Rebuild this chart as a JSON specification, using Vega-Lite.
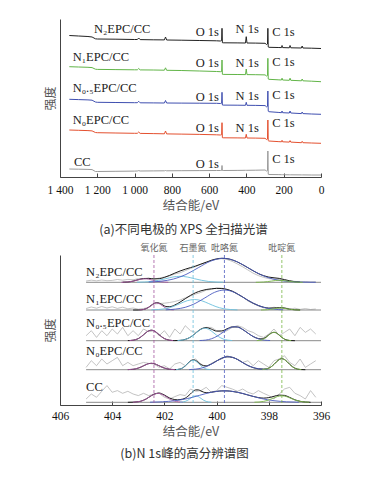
{
"$schema":"https://vega.github.io/schema/vega-lite/v6.json",
"background":"white",
"padding":{"left":44,"top":19,"right":5,"bottom":5},
"spacing":78,
"bounds":"flush",
"resolve":{"scale":{"color":"independent"}},
"config":{"view":{"stroke":null},"font":"Liberation Serif","axis":{"labelOverlap":false}},
"datasets":{
"survey":[
{"s":"N2","e":1350,"v":141.5},{"s":"N2","e":1300,"v":141.0},{"s":"N2","e":1250,"v":140.5},{"s":"N2","e":1228,"v":140.0},{"s":"N2","e":1210,"v":138.2},{"s":"N2","e":1200,"v":138.0},{"s":"N2","e":1100,"v":137.8},{"s":"N2","e":1000,"v":137.5},{"s":"N2","e":985,"v":137.5},{"s":"N2","e":978,"v":139.0},{"s":"N2","e":970,"v":137.4},{"s":"N2","e":900,"v":137.2},{"s":"N2","e":840,"v":137.1},{"s":"N2","e":834,"v":140.0},{"s":"N2","e":828,"v":137.0},{"s":"N2","e":750,"v":136.8},{"s":"N2","e":650,"v":136.5},{"s":"N2","e":560,"v":136.2},{"s":"N2","e":540,"v":136.0},{"s":"N2","e":533,"v":136.5},{"s":"N2","e":531,"v":148.7},{"s":"N2","e":529,"v":134.3},{"s":"N2","e":525,"v":134.2},{"s":"N2","e":450,"v":134.1},{"s":"N2","e":405,"v":134.0},{"s":"N2","e":401,"v":140.3},{"s":"N2","e":397,"v":134.0},{"s":"N2","e":350,"v":133.9},{"s":"N2","e":300,"v":133.7},{"s":"N2","e":292,"v":132.5},{"s":"N2","e":287,"v":133.0},{"s":"N2","e":285,"v":148.7},{"s":"N2","e":283,"v":130.0},{"s":"N2","e":280,"v":129.7},{"s":"N2","e":230,"v":129.5},{"s":"N2","e":212,"v":129.4},{"s":"N2","e":209,"v":131.5},{"s":"N2","e":206,"v":129.4},{"s":"N2","e":170,"v":129.2},{"s":"N2","e":166,"v":131.5},{"s":"N2","e":162,"v":129.2},{"s":"N2","e":105,"v":129.0},{"s":"N2","e":101,"v":131.0},{"s":"N2","e":97,"v":129.0},{"s":"N2","e":50,"v":128.8},{"s":"N2","e":0,"v":128.5},
{"s":"N1","e":1350,"v":110.3},{"s":"N1","e":1300,"v":110.0},{"s":"N1","e":1250,"v":109.7},{"s":"N1","e":1228,"v":109.4},{"s":"N1","e":1210,"v":107.8},{"s":"N1","e":1200,"v":107.6},{"s":"N1","e":1100,"v":107.4},{"s":"N1","e":1000,"v":107.2},{"s":"N1","e":985,"v":107.2},{"s":"N1","e":978,"v":108.5},{"s":"N1","e":970,"v":107.1},{"s":"N1","e":900,"v":107.0},{"s":"N1","e":840,"v":106.8},{"s":"N1","e":834,"v":109.2},{"s":"N1","e":828,"v":106.7},{"s":"N1","e":750,"v":106.5},{"s":"N1","e":650,"v":106.0},{"s":"N1","e":560,"v":105.5},{"s":"N1","e":540,"v":105.3},{"s":"N1","e":533,"v":105.5},{"s":"N1","e":531,"v":117.0},{"s":"N1","e":529,"v":102.7},{"s":"N1","e":525,"v":102.6},{"s":"N1","e":450,"v":102.5},{"s":"N1","e":405,"v":102.4},{"s":"N1","e":401,"v":108.0},{"s":"N1","e":397,"v":102.4},{"s":"N1","e":350,"v":102.3},{"s":"N1","e":300,"v":102.1},{"s":"N1","e":292,"v":101.0},{"s":"N1","e":287,"v":101.5},{"s":"N1","e":285,"v":118.7},{"s":"N1","e":283,"v":98.0},{"s":"N1","e":280,"v":97.7},{"s":"N1","e":230,"v":97.2},{"s":"N1","e":212,"v":97.0},{"s":"N1","e":209,"v":98.8},{"s":"N1","e":206,"v":97.0},{"s":"N1","e":170,"v":96.7},{"s":"N1","e":166,"v":98.8},{"s":"N1","e":162,"v":96.7},{"s":"N1","e":105,"v":96.2},{"s":"N1","e":101,"v":98.0},{"s":"N1","e":97,"v":96.2},{"s":"N1","e":50,"v":95.8},{"s":"N1","e":0,"v":95.3},
{"s":"N05","e":1350,"v":77.7},{"s":"N05","e":1300,"v":77.4},{"s":"N05","e":1250,"v":77.1},{"s":"N05","e":1228,"v":76.8},{"s":"N05","e":1210,"v":75.0},{"s":"N05","e":1200,"v":74.7},{"s":"N05","e":1100,"v":74.5},{"s":"N05","e":1000,"v":74.3},{"s":"N05","e":985,"v":74.3},{"s":"N05","e":978,"v":75.7},{"s":"N05","e":970,"v":74.2},{"s":"N05","e":900,"v":74.1},{"s":"N05","e":840,"v":74.0},{"s":"N05","e":834,"v":76.5},{"s":"N05","e":828,"v":74.0},{"s":"N05","e":750,"v":73.9},{"s":"N05","e":650,"v":73.8},{"s":"N05","e":560,"v":73.7},{"s":"N05","e":540,"v":73.5},{"s":"N05","e":533,"v":73.8},{"s":"N05","e":531,"v":84.7},{"s":"N05","e":529,"v":72.0},{"s":"N05","e":525,"v":71.9},{"s":"N05","e":450,"v":71.8},{"s":"N05","e":405,"v":71.7},{"s":"N05","e":401,"v":74.7},{"s":"N05","e":397,"v":71.7},{"s":"N05","e":350,"v":71.6},{"s":"N05","e":300,"v":71.4},{"s":"N05","e":292,"v":70.2},{"s":"N05","e":287,"v":70.7},{"s":"N05","e":285,"v":86.0},{"s":"N05","e":283,"v":65.8},{"s":"N05","e":280,"v":65.3},{"s":"N05","e":230,"v":64.6},{"s":"N05","e":212,"v":64.3},{"s":"N05","e":209,"v":66.0},{"s":"N05","e":206,"v":64.3},{"s":"N05","e":170,"v":64.0},{"s":"N05","e":166,"v":66.0},{"s":"N05","e":162,"v":64.0},{"s":"N05","e":105,"v":63.4},{"s":"N05","e":101,"v":65.0},{"s":"N05","e":97,"v":63.4},{"s":"N05","e":50,"v":63.0},{"s":"N05","e":0,"v":62.7},
{"s":"N0","e":1350,"v":47.0},{"s":"N0","e":1300,"v":46.7},{"s":"N0","e":1250,"v":46.4},{"s":"N0","e":1228,"v":46.1},{"s":"N0","e":1210,"v":44.5},{"s":"N0","e":1200,"v":44.3},{"s":"N0","e":1100,"v":44.0},{"s":"N0","e":1000,"v":43.7},{"s":"N0","e":985,"v":43.7},{"s":"N0","e":978,"v":45.0},{"s":"N0","e":970,"v":43.6},{"s":"N0","e":900,"v":43.4},{"s":"N0","e":840,"v":43.2},{"s":"N0","e":834,"v":46.0},{"s":"N0","e":828,"v":43.1},{"s":"N0","e":750,"v":42.9},{"s":"N0","e":650,"v":42.6},{"s":"N0","e":560,"v":42.2},{"s":"N0","e":540,"v":42.0},{"s":"N0","e":533,"v":42.3},{"s":"N0","e":531,"v":54.3},{"s":"N0","e":529,"v":39.3},{"s":"N0","e":525,"v":39.2},{"s":"N0","e":450,"v":39.1},{"s":"N0","e":405,"v":39.0},{"s":"N0","e":401,"v":42.7},{"s":"N0","e":397,"v":39.0},{"s":"N0","e":350,"v":38.9},{"s":"N0","e":300,"v":38.7},{"s":"N0","e":292,"v":37.5},{"s":"N0","e":287,"v":38.0},{"s":"N0","e":285,"v":57.0},{"s":"N0","e":283,"v":36.4},{"s":"N0","e":280,"v":36.0},{"s":"N0","e":230,"v":35.4},{"s":"N0","e":212,"v":35.2},{"s":"N0","e":209,"v":36.7},{"s":"N0","e":206,"v":35.2},{"s":"N0","e":170,"v":34.9},{"s":"N0","e":166,"v":36.4},{"s":"N0","e":162,"v":34.9},{"s":"N0","e":105,"v":34.3},{"s":"N0","e":101,"v":35.7},{"s":"N0","e":97,"v":34.3},{"s":"N0","e":50,"v":34.0},{"s":"N0","e":0,"v":33.7},
{"s":"CC","e":1350,"v":8.0},{"s":"CC","e":1300,"v":7.8},{"s":"CC","e":1250,"v":7.6},{"s":"CC","e":1228,"v":7.4},{"s":"CC","e":1210,"v":5.5},{"s":"CC","e":1200,"v":5.5},{"s":"CC","e":1100,"v":5.7},{"s":"CC","e":1000,"v":5.9},{"s":"CC","e":985,"v":6.0},{"s":"CC","e":978,"v":6.4},{"s":"CC","e":970,"v":6.0},{"s":"CC","e":900,"v":6.1},{"s":"CC","e":840,"v":6.2},{"s":"CC","e":834,"v":6.5},{"s":"CC","e":828,"v":6.2},{"s":"CC","e":750,"v":6.3},{"s":"CC","e":650,"v":6.4},{"s":"CC","e":560,"v":6.5},{"s":"CC","e":540,"v":6.5},{"s":"CC","e":533,"v":6.6},{"s":"CC","e":531,"v":11.5},{"s":"CC","e":529,"v":6.5},{"s":"CC","e":525,"v":6.5},{"s":"CC","e":450,"v":6.6},{"s":"CC","e":405,"v":6.7},{"s":"CC","e":401,"v":6.7},{"s":"CC","e":397,"v":6.7},{"s":"CC","e":350,"v":6.8},{"s":"CC","e":300,"v":7.0},{"s":"CC","e":292,"v":6.0},{"s":"CC","e":287,"v":6.4},{"s":"CC","e":285,"v":26.0},{"s":"CC","e":283,"v":2.7},{"s":"CC","e":280,"v":2.5},{"s":"CC","e":230,"v":2.4},{"s":"CC","e":212,"v":2.3},{"s":"CC","e":209,"v":2.3},{"s":"CC","e":206,"v":2.3},{"s":"CC","e":170,"v":2.2},{"s":"CC","e":166,"v":2.2},{"s":"CC","e":162,"v":2.2},{"s":"CC","e":105,"v":2.1},{"s":"CC","e":101,"v":2.1},{"s":"CC","e":97,"v":2.1},{"s":"CC","e":50,"v":2.0},{"s":"CC","e":0,"v":2.0}
],
"tlab":[
{"e":1218,"v":148,"t":"N₂EPC/CC"},{"e":1332,"v":119.7,"t":"N₁EPC/CC"},{"e":1332,"v":88.7,"t":"N₀.₅EPC/CC"},{"e":1332,"v":57,"t":"N₀EPC/CC"},{"e":1325,"v":15.3,"t":"CC"},
{"e":672,"v":144.7,"t":"O 1s"},{"e":458,"v":147.7,"t":"N 1s"},{"e":262,"v":145.3,"t":"C 1s"},
{"e":672,"v":113.7,"t":"O 1s"},{"e":458,"v":113.7,"t":"N 1s"},{"e":262,"v":114.7,"t":"C 1s"},
{"e":672,"v":80.3,"t":"O 1s"},{"e":458,"v":81.3,"t":"N 1s"},{"e":262,"v":82,"t":"C 1s"},
{"e":672,"v":48.7,"t":"O 1s"},{"e":458,"v":49.3,"t":"N 1s"},{"e":262,"v":53.7,"t":"C 1s"},
{"e":672,"v":13,"t":"O 1s"},{"e":262,"v":17.7,"t":"C 1s"}
],
"raw":[
{"s":"N2","e":405.0,"v":124.0},{"s":"N2","e":404.8,"v":124.8},{"s":"N2","e":404.6,"v":124.2},{"s":"N2","e":404.4,"v":125.0},{"s":"N2","e":404.2,"v":124.3},{"s":"N2","e":404.0,"v":124.6},{"s":"N2","e":403.8,"v":125.5},{"s":"N2","e":403.6,"v":124.8},{"s":"N2","e":403.4,"v":125.6},{"s":"N2","e":403.2,"v":125.2},{"s":"N2","e":403.0,"v":126.3},{"s":"N2","e":402.8,"v":126.0},{"s":"N2","e":402.6,"v":126.8},{"s":"N2","e":402.4,"v":125.9},{"s":"N2","e":402.2,"v":126.9},{"s":"N2","e":402.0,"v":128.0},{"s":"N2","e":401.8,"v":129.1},{"s":"N2","e":401.6,"v":131.0},{"s":"N2","e":401.4,"v":132.2},{"s":"N2","e":401.2,"v":134.4},{"s":"N2","e":401.0,"v":136.5},{"s":"N2","e":400.8,"v":138.4},{"s":"N2","e":400.6,"v":140.8},{"s":"N2","e":400.4,"v":142.5},{"s":"N2","e":400.2,"v":144.6},{"s":"N2","e":400.0,"v":145.8},{"s":"N2","e":399.8,"v":146.3},{"s":"N2","e":399.6,"v":145.5},{"s":"N2","e":399.4,"v":143.6},{"s":"N2","e":399.2,"v":141.0},{"s":"N2","e":399.0,"v":138.2},{"s":"N2","e":398.8,"v":135.0},{"s":"N2","e":398.6,"v":131.8},{"s":"N2","e":398.4,"v":129.4},{"s":"N2","e":398.2,"v":127.6},{"s":"N2","e":398.0,"v":126.4},{"s":"N2","e":397.8,"v":126.0},{"s":"N2","e":397.6,"v":125.6},{"s":"N2","e":397.4,"v":124.9},{"s":"N2","e":397.2,"v":124.0},{"s":"N2","e":397.0,"v":123.6},{"s":"N2","e":396.8,"v":123.2},{"s":"N2","e":396.6,"v":123.4},{"s":"N2","e":396.4,"v":123.0},{"s":"N2","e":396.2,"v":123.2},
{"s":"N1","e":405.0,"v":96.5},{"s":"N1","e":404.8,"v":98.0},{"s":"N1","e":404.6,"v":96.8},{"s":"N1","e":404.4,"v":98.5},{"s":"N1","e":404.2,"v":97.0},{"s":"N1","e":404.0,"v":98.2},{"s":"N1","e":403.8,"v":96.6},{"s":"N1","e":403.6,"v":97.8},{"s":"N1","e":403.4,"v":96.2},{"s":"N1","e":403.2,"v":97.0},{"s":"N1","e":403.0,"v":95.8},{"s":"N1","e":402.8,"v":96.5},{"s":"N1","e":402.6,"v":97.5},{"s":"N1","e":402.4,"v":101.0},{"s":"N1","e":402.2,"v":101.5},{"s":"N1","e":402.0,"v":101.8},{"s":"N1","e":401.8,"v":102.5},{"s":"N1","e":401.6,"v":103.5},{"s":"N1","e":401.4,"v":105.0},{"s":"N1","e":401.2,"v":107.2},{"s":"N1","e":401.0,"v":109.0},{"s":"N1","e":400.8,"v":111.0},{"s":"N1","e":400.6,"v":112.6},{"s":"N1","e":400.4,"v":114.8},{"s":"N1","e":400.2,"v":115.6},{"s":"N1","e":400.0,"v":117.0},{"s":"N1","e":399.8,"v":116.8},{"s":"N1","e":399.6,"v":115.2},{"s":"N1","e":399.4,"v":114.0},{"s":"N1","e":399.2,"v":110.5},{"s":"N1","e":399.0,"v":108.2},{"s":"N1","e":398.8,"v":104.0},{"s":"N1","e":398.6,"v":101.5},{"s":"N1","e":398.4,"v":99.0},{"s":"N1","e":398.2,"v":97.2},{"s":"N1","e":398.0,"v":96.5},{"s":"N1","e":397.8,"v":97.8},{"s":"N1","e":397.6,"v":96.6},{"s":"N1","e":397.4,"v":97.5},{"s":"N1","e":397.2,"v":96.0},{"s":"N1","e":397.0,"v":96.8},{"s":"N1","e":396.8,"v":95.6},{"s":"N1","e":396.6,"v":96.4},{"s":"N1","e":396.4,"v":95.5},{"s":"N1","e":396.2,"v":96.0},
{"s":"N05","e":405.0,"v":69.3},{"s":"N05","e":404.8,"v":74.3},{"s":"N05","e":404.6,"v":67.6},{"s":"N05","e":404.4,"v":74.3},{"s":"N05","e":404.2,"v":69.3},{"s":"N05","e":404.0,"v":76.0},{"s":"N05","e":403.8,"v":71.0},{"s":"N05","e":403.6,"v":77.6},{"s":"N05","e":403.4,"v":69.3},{"s":"N05","e":403.2,"v":74.3},{"s":"N05","e":403.0,"v":69.3},{"s":"N05","e":402.8,"v":76.0},{"s":"N05","e":402.6,"v":73.3},{"s":"N05","e":402.4,"v":74.3},{"s":"N05","e":402.2,"v":69.3},{"s":"N05","e":402.0,"v":74.3},{"s":"N05","e":401.8,"v":67.6},{"s":"N05","e":401.6,"v":76.0},{"s":"N05","e":401.4,"v":71.0},{"s":"N05","e":401.2,"v":79.3},{"s":"N05","e":401.0,"v":74.3},{"s":"N05","e":400.8,"v":72.6},{"s":"N05","e":400.6,"v":76.0},{"s":"N05","e":400.4,"v":77.6},{"s":"N05","e":400.2,"v":77.6},{"s":"N05","e":400.0,"v":74.3},{"s":"N05","e":399.8,"v":72.6},{"s":"N05","e":399.6,"v":74.3},{"s":"N05","e":399.4,"v":77.6},{"s":"N05","e":399.2,"v":79.3},{"s":"N05","e":399.0,"v":77.6},{"s":"N05","e":398.8,"v":74.3},{"s":"N05","e":398.6,"v":72.6},{"s":"N05","e":398.4,"v":69.3},{"s":"N05","e":398.2,"v":67.6},{"s":"N05","e":398.0,"v":71.0},{"s":"N05","e":397.8,"v":76.0},{"s":"N05","e":397.6,"v":69.3},{"s":"N05","e":397.4,"v":72.6},{"s":"N05","e":397.2,"v":76.0},{"s":"N05","e":397.0,"v":69.3},{"s":"N05","e":396.8,"v":77.6},{"s":"N05","e":396.6,"v":72.6},{"s":"N05","e":396.4,"v":76.0},{"s":"N05","e":396.2,"v":71.0},
{"s":"N0","e":405.0,"v":37.6},{"s":"N0","e":404.8,"v":44.3},{"s":"N0","e":404.6,"v":39.3},{"s":"N0","e":404.4,"v":46.0},{"s":"N0","e":404.2,"v":41.0},{"s":"N0","e":404.0,"v":44.3},{"s":"N0","e":403.8,"v":47.6},{"s":"N0","e":403.6,"v":39.3},{"s":"N0","e":403.4,"v":42.6},{"s":"N0","e":403.2,"v":39.3},{"s":"N0","e":403.0,"v":41.0},{"s":"N0","e":402.8,"v":42.6},{"s":"N0","e":402.6,"v":41.6},{"s":"N0","e":402.4,"v":41.0},{"s":"N0","e":402.2,"v":37.6},{"s":"N0","e":402.0,"v":39.3},{"s":"N0","e":401.8,"v":36.0},{"s":"N0","e":401.6,"v":41.0},{"s":"N0","e":401.4,"v":42.6},{"s":"N0","e":401.2,"v":39.3},{"s":"N0","e":401.0,"v":44.3},{"s":"N0","e":400.8,"v":46.0},{"s":"N0","e":400.6,"v":41.0},{"s":"N0","e":400.4,"v":38.3},{"s":"N0","e":400.2,"v":41.6},{"s":"N0","e":400.0,"v":44.3},{"s":"N0","e":399.8,"v":46.0},{"s":"N0","e":399.6,"v":49.3},{"s":"N0","e":399.4,"v":47.6},{"s":"N0","e":399.2,"v":46.0},{"s":"N0","e":399.0,"v":42.6},{"s":"N0","e":398.8,"v":44.3},{"s":"N0","e":398.6,"v":39.3},{"s":"N0","e":398.4,"v":44.3},{"s":"N0","e":398.2,"v":41.0},{"s":"N0","e":398.0,"v":37.6},{"s":"N0","e":397.8,"v":44.3},{"s":"N0","e":397.6,"v":46.0},{"s":"N0","e":397.4,"v":49.3},{"s":"N0","e":397.2,"v":42.6},{"s":"N0","e":397.0,"v":39.3},{"s":"N0","e":396.8,"v":46.0},{"s":"N0","e":396.6,"v":37.6},{"s":"N0","e":396.4,"v":41.0},{"s":"N0","e":396.2,"v":44.3},
{"s":"CC","e":405.0,"v":6.0},{"s":"CC","e":404.8,"v":11.0},{"s":"CC","e":404.6,"v":7.7},{"s":"CC","e":404.4,"v":13.7},{"s":"CC","e":404.2,"v":19.4},{"s":"CC","e":404.0,"v":12.7},{"s":"CC","e":403.8,"v":14.4},{"s":"CC","e":403.6,"v":11.7},{"s":"CC","e":403.4,"v":13.7},{"s":"CC","e":403.2,"v":11.0},{"s":"CC","e":403.0,"v":9.4},{"s":"CC","e":402.8,"v":11.7},{"s":"CC","e":402.6,"v":9.4},{"s":"CC","e":402.4,"v":11.0},{"s":"CC","e":402.2,"v":11.7},{"s":"CC","e":402.0,"v":7.7},{"s":"CC","e":401.8,"v":6.0},{"s":"CC","e":401.6,"v":8.4},{"s":"CC","e":401.4,"v":10.4},{"s":"CC","e":401.2,"v":9.4},{"s":"CC","e":401.0,"v":16.0},{"s":"CC","e":400.8,"v":13.7},{"s":"CC","e":400.6,"v":14.4},{"s":"CC","e":400.4,"v":17.7},{"s":"CC","e":400.2,"v":12.7},{"s":"CC","e":400.0,"v":14.4},{"s":"CC","e":399.8,"v":19.4},{"s":"CC","e":399.6,"v":17.7},{"s":"CC","e":399.4,"v":16.0},{"s":"CC","e":399.2,"v":13.7},{"s":"CC","e":399.0,"v":16.0},{"s":"CC","e":398.8,"v":12.7},{"s":"CC","e":398.6,"v":11.0},{"s":"CC","e":398.4,"v":14.4},{"s":"CC","e":398.2,"v":11.7},{"s":"CC","e":398.0,"v":9.4},{"s":"CC","e":397.8,"v":6.0},{"s":"CC","e":397.6,"v":11.0},{"s":"CC","e":397.4,"v":16.0},{"s":"CC","e":397.2,"v":17.7},{"s":"CC","e":397.0,"v":11.7},{"s":"CC","e":396.8,"v":9.4},{"s":"CC","e":396.6,"v":6.0},{"s":"CC","e":396.4,"v":14.4},{"s":"CC","e":396.2,"v":7.7}
],
"base":[
{"s":"N2","e":405.0,"v":122.7},{"s":"N2","e":396.0,"v":122.7},{"s":"N1","e":405.0,"v":95.0},{"s":"N1","e":396.0,"v":95.0},{"s":"N05","e":405.0,"v":64.3},{"s":"N05","e":396.0,"v":64.3},{"s":"N0","e":405.0,"v":35.3},{"s":"N0","e":396.0,"v":35.3},{"s":"CC","e":405.0,"v":2.7},{"s":"CC","e":396.0,"v":2.7}
],
"fit":[
{"s":"N2","e":403.6,"v":122.8},{"s":"N2","e":403.4,"v":123.0},{"s":"N2","e":403.2,"v":123.9},{"s":"N2","e":403.0,"v":125.3},{"s":"N2","e":402.8,"v":126.5},{"s":"N2","e":402.6,"v":126.6},{"s":"N2","e":402.4,"v":126.1},{"s":"N2","e":402.2,"v":126.3},{"s":"N2","e":402.0,"v":127.6},{"s":"N2","e":401.8,"v":129.6},{"s":"N2","e":401.6,"v":131.9},{"s":"N2","e":401.4,"v":134.0},{"s":"N2","e":401.2,"v":135.8},{"s":"N2","e":401.0,"v":137.4},{"s":"N2","e":400.8,"v":139.0},{"s":"N2","e":400.6,"v":140.9},{"s":"N2","e":400.4,"v":142.8},{"s":"N2","e":400.2,"v":144.7},{"s":"N2","e":400.0,"v":146.1},{"s":"N2","e":399.8,"v":146.7},{"s":"N2","e":399.6,"v":146.4},{"s":"N2","e":399.4,"v":145.1},{"s":"N2","e":399.2,"v":143.0},{"s":"N2","e":399.0,"v":140.3},{"s":"N2","e":398.8,"v":137.3},{"s":"N2","e":398.6,"v":134.2},{"s":"N2","e":398.4,"v":131.4},{"s":"N2","e":398.2,"v":129.3},{"s":"N2","e":398.0,"v":127.9},{"s":"N2","e":397.8,"v":127.2},{"s":"N2","e":397.6,"v":126.6},{"s":"N2","e":397.4,"v":125.4},{"s":"N2","e":397.2,"v":124.2},{"s":"N2","e":397.0,"v":123.3},{"s":"N2","e":396.8,"v":122.9},
{"s":"N1","e":403.2,"v":95.0},{"s":"N1","e":403.0,"v":95.0},{"s":"N1","e":402.8,"v":95.5},{"s":"N1","e":402.7,"v":96.3},{"s":"N1","e":402.6,"v":97.8},{"s":"N1","e":402.5,"v":99.8},{"s":"N1","e":402.4,"v":101.5},{"s":"N1","e":402.3,"v":102.4},{"s":"N1","e":402.2,"v":101.9},{"s":"N1","e":402.1,"v":100.6},{"s":"N1","e":402.0,"v":99.1},{"s":"N1","e":401.9,"v":98.3},{"s":"N1","e":401.8,"v":98.3},{"s":"N1","e":401.6,"v":100.0},{"s":"N1","e":401.4,"v":102.9},{"s":"N1","e":401.2,"v":106.3},{"s":"N1","e":401.0,"v":109.6},{"s":"N1","e":400.8,"v":112.3},{"s":"N1","e":400.6,"v":114.2},{"s":"N1","e":400.4,"v":115.5},{"s":"N1","e":400.2,"v":116.2},{"s":"N1","e":400.0,"v":116.6},{"s":"N1","e":399.8,"v":116.5},{"s":"N1","e":399.6,"v":115.6},{"s":"N1","e":399.4,"v":113.8},{"s":"N1","e":399.2,"v":111.1},{"s":"N1","e":399.0,"v":108.0},{"s":"N1","e":398.8,"v":104.7},{"s":"N1","e":398.6,"v":101.8},{"s":"N1","e":398.4,"v":99.5},{"s":"N1","e":398.2,"v":97.8},{"s":"N1","e":398.0,"v":96.9},{"s":"N1","e":397.8,"v":97.0},{"s":"N1","e":397.6,"v":97.4},{"s":"N1","e":397.4,"v":96.9},{"s":"N1","e":397.2,"v":95.8},{"s":"N1","e":397.0,"v":95.2},{"s":"N1","e":396.8,"v":95.0},
{"s":"N05","e":403.4,"v":64.4},{"s":"N05","e":403.2,"v":64.8},{"s":"N05","e":403.1,"v":65.4},{"s":"N05","e":403.0,"v":66.4},{"s":"N05","e":402.9,"v":68.1},{"s":"N05","e":402.8,"v":70.2},{"s":"N05","e":402.7,"v":72.5},{"s":"N05","e":402.6,"v":74.2},{"s":"N05","e":402.5,"v":74.8},{"s":"N05","e":402.4,"v":74.2},{"s":"N05","e":402.3,"v":72.5},{"s":"N05","e":402.2,"v":70.2},{"s":"N05","e":402.1,"v":68.1},{"s":"N05","e":402.0,"v":66.4},{"s":"N05","e":401.9,"v":65.4},{"s":"N05","e":401.8,"v":64.8},{"s":"N05","e":401.6,"v":64.4},{"s":"N05","e":401.4,"v":64.6},{"s":"N05","e":401.2,"v":65.6},{"s":"N05","e":401.0,"v":67.9},{"s":"N05","e":400.8,"v":71.9},{"s":"N05","e":400.6,"v":75.9},{"s":"N05","e":400.4,"v":77.4},{"s":"N05","e":400.2,"v":75.9},{"s":"N05","e":400.0,"v":73.9},{"s":"N05","e":399.8,"v":74.1},{"s":"N05","e":399.6,"v":76.2},{"s":"N05","e":399.4,"v":78.1},{"s":"N05","e":399.2,"v":78.0},{"s":"N05","e":399.0,"v":75.5},{"s":"N05","e":398.8,"v":71.9},{"s":"N05","e":398.6,"v":68.5},{"s":"N05","e":398.4,"v":66.4},{"s":"N05","e":398.3,"v":66.1},{"s":"N05","e":398.2,"v":66.6},{"s":"N05","e":398.1,"v":68.0},{"s":"N05","e":398.0,"v":70.1},{"s":"N05","e":397.9,"v":72.0},{"s":"N05","e":397.8,"v":72.7},{"s":"N05","e":397.7,"v":71.9},{"s":"N05","e":397.6,"v":69.9},{"s":"N05","e":397.5,"v":67.6},{"s":"N05","e":397.4,"v":65.9},{"s":"N05","e":397.3,"v":64.9},{"s":"N05","e":397.2,"v":64.5},{"s":"N05","e":397.0,"v":64.3},
{"s":"N0","e":403.4,"v":35.4},{"s":"N0","e":403.2,"v":35.7},{"s":"N0","e":403.1,"v":36.2},{"s":"N0","e":403.0,"v":36.9},{"s":"N0","e":402.9,"v":37.9},{"s":"N0","e":402.8,"v":39.2},{"s":"N0","e":402.7,"v":40.4},{"s":"N0","e":402.6,"v":41.4},{"s":"N0","e":402.5,"v":41.7},{"s":"N0","e":402.4,"v":41.4},{"s":"N0","e":402.3,"v":40.4},{"s":"N0","e":402.2,"v":39.2},{"s":"N0","e":402.1,"v":37.9},{"s":"N0","e":402.0,"v":36.9},{"s":"N0","e":401.9,"v":36.2},{"s":"N0","e":401.8,"v":35.7},{"s":"N0","e":401.6,"v":35.4},{"s":"N0","e":401.5,"v":35.5},{"s":"N0","e":401.4,"v":36.0},{"s":"N0","e":401.3,"v":37.1},{"s":"N0","e":401.2,"v":39.1},{"s":"N0","e":401.1,"v":41.7},{"s":"N0","e":401.0,"v":44.1},{"s":"N0","e":400.9,"v":45.1},{"s":"N0","e":400.8,"v":44.5},{"s":"N0","e":400.7,"v":42.5},{"s":"N0","e":400.6,"v":40.5},{"s":"N0","e":400.5,"v":39.3},{"s":"N0","e":400.4,"v":39.1},{"s":"N0","e":400.3,"v":39.8},{"s":"N0","e":400.2,"v":41.0},{"s":"N0","e":400.0,"v":44.0},{"s":"N0","e":399.8,"v":46.8},{"s":"N0","e":399.6,"v":48.2},{"s":"N0","e":399.4,"v":47.7},{"s":"N0","e":399.2,"v":45.5},{"s":"N0","e":399.0,"v":42.4},{"s":"N0","e":398.8,"v":39.5},{"s":"N0","e":398.6,"v":37.4},{"s":"N0","e":398.4,"v":36.2},{"s":"N0","e":398.2,"v":35.9},{"s":"N0","e":398.1,"v":36.1},{"s":"N0","e":398.0,"v":36.9},{"s":"N0","e":397.9,"v":38.4},{"s":"N0","e":397.8,"v":40.7},{"s":"N0","e":397.7,"v":43.3},{"s":"N0","e":397.6,"v":45.5},{"s":"N0","e":397.5,"v":46.3},{"s":"N0","e":397.4,"v":45.5},{"s":"N0","e":397.3,"v":43.3},{"s":"N0","e":397.2,"v":40.7},{"s":"N0","e":397.1,"v":38.4},{"s":"N0","e":397.0,"v":36.8},{"s":"N0","e":396.9,"v":35.9},{"s":"N0","e":396.8,"v":35.5},{"s":"N0","e":396.6,"v":35.3},
{"s":"CC","e":403.4,"v":2.7},{"s":"CC","e":403.2,"v":2.8},{"s":"CC","e":403.0,"v":3.3},{"s":"CC","e":402.9,"v":3.8},{"s":"CC","e":402.8,"v":4.8},{"s":"CC","e":402.7,"v":6.0},{"s":"CC","e":402.6,"v":7.7},{"s":"CC","e":402.5,"v":9.3},{"s":"CC","e":402.4,"v":10.8},{"s":"CC","e":402.3,"v":11.6},{"s":"CC","e":402.2,"v":12.0},{"s":"CC","e":402.1,"v":11.2},{"s":"CC","e":402.0,"v":10.0},{"s":"CC","e":401.9,"v":8.4},{"s":"CC","e":401.8,"v":7.0},{"s":"CC","e":401.7,"v":6.0},{"s":"CC","e":401.6,"v":5.4},{"s":"CC","e":401.5,"v":5.2},{"s":"CC","e":401.4,"v":5.4},{"s":"CC","e":401.3,"v":5.9},{"s":"CC","e":401.2,"v":6.9},{"s":"CC","e":401.1,"v":8.7},{"s":"CC","e":401.0,"v":11.1},{"s":"CC","e":400.9,"v":13.6},{"s":"CC","e":400.8,"v":15.1},{"s":"CC","e":400.7,"v":15.1},{"s":"CC","e":400.6,"v":14.0},{"s":"CC","e":400.5,"v":12.9},{"s":"CC","e":400.4,"v":12.3},{"s":"CC","e":400.3,"v":12.4},{"s":"CC","e":400.2,"v":12.8},{"s":"CC","e":400.0,"v":13.6},{"s":"CC","e":399.8,"v":14.1},{"s":"CC","e":399.6,"v":14.1},{"s":"CC","e":399.4,"v":13.6},{"s":"CC","e":399.2,"v":12.7},{"s":"CC","e":399.0,"v":11.5},{"s":"CC","e":398.8,"v":10.0},{"s":"CC","e":398.6,"v":8.6},{"s":"CC","e":398.4,"v":7.4},{"s":"CC","e":398.2,"v":6.9},{"s":"CC","e":398.0,"v":7.4},{"s":"CC","e":397.8,"v":8.7},{"s":"CC","e":397.6,"v":9.9},{"s":"CC","e":397.4,"v":9.6},{"s":"CC","e":397.2,"v":7.6},{"s":"CC","e":397.0,"v":5.2},{"s":"CC","e":396.8,"v":3.7},{"s":"CC","e":396.6,"v":3.0},{"s":"CC","e":396.4,"v":2.7}
],
"comp":[
{"s":"N2","c":"P","e":403.65,"v":122.7},{"s":"N2","c":"P","e":403.5,"v":122.9},{"s":"N2","c":"P","e":403.35,"v":123.2},{"s":"N2","c":"P","e":403.2,"v":123.8},{"s":"N2","c":"P","e":403.05,"v":124.8},{"s":"N2","c":"P","e":402.9,"v":125.8},{"s":"N2","c":"P","e":402.75,"v":126.2},{"s":"N2","c":"P","e":402.6,"v":125.8},{"s":"N2","c":"P","e":402.45,"v":124.8},{"s":"N2","c":"P","e":402.3,"v":123.8},{"s":"N2","c":"P","e":402.15,"v":123.2},{"s":"N2","c":"P","e":402.0,"v":122.9},{"s":"N2","c":"P","e":401.85,"v":122.7},
{"s":"N2","c":"C","e":403.05,"v":122.8},{"s":"N2","c":"C","e":402.775,"v":123.0},{"s":"N2","c":"C","e":402.5,"v":123.5},{"s":"N2","c":"C","e":402.225,"v":124.7},{"s":"N2","c":"C","e":401.95,"v":126.3},{"s":"N2","c":"C","e":401.675,"v":128.0},{"s":"N2","c":"C","e":401.4,"v":128.7},{"s":"N2","c":"C","e":401.125,"v":128.0},{"s":"N2","c":"C","e":400.85,"v":126.3},{"s":"N2","c":"C","e":400.575,"v":124.7},{"s":"N2","c":"C","e":400.3,"v":123.5},{"s":"N2","c":"C","e":400.025,"v":123.0},{"s":"N2","c":"C","e":399.75,"v":122.8},
{"s":"N2","c":"B","e":402.6,"v":123.0},{"s":"N2","c":"B","e":402.125,"v":123.8},{"s":"N2","c":"B","e":401.65,"v":126.0},{"s":"N2","c":"B","e":401.175,"v":130.5},{"s":"N2","c":"B","e":400.7,"v":137.3},{"s":"N2","c":"B","e":400.225,"v":143.9},{"s":"N2","c":"B","e":399.75,"v":146.7},{"s":"N2","c":"B","e":399.275,"v":143.9},{"s":"N2","c":"B","e":398.8,"v":137.3},{"s":"N2","c":"B","e":398.325,"v":130.5},{"s":"N2","c":"B","e":397.85,"v":126.0},{"s":"N2","c":"B","e":397.375,"v":123.8},{"s":"N2","c":"B","e":396.9,"v":123.0},{"s":"N2","c":"B","e":396.2,"v":122.7},
{"s":"N2","c":"G","e":398.5,"v":122.7},{"s":"N2","c":"G","e":398.35,"v":122.8},{"s":"N2","c":"G","e":398.2,"v":123.0},{"s":"N2","c":"G","e":398.05,"v":123.4},{"s":"N2","c":"G","e":397.9,"v":123.9},{"s":"N2","c":"G","e":397.75,"v":124.5},{"s":"N2","c":"G","e":397.6,"v":124.7},{"s":"N2","c":"G","e":397.45,"v":124.5},{"s":"N2","c":"G","e":397.3,"v":123.9},{"s":"N2","c":"G","e":397.15,"v":123.4},{"s":"N2","c":"G","e":397.0,"v":123.0},{"s":"N2","c":"G","e":396.85,"v":122.8},{"s":"N2","c":"G","e":396.7,"v":122.7},
{"s":"N1","c":"P","e":402.96,"v":95.1},{"s":"N1","c":"P","e":402.85,"v":95.3},{"s":"N1","c":"P","e":402.74,"v":96.0},{"s":"N1","c":"P","e":402.63,"v":97.3},{"s":"N1","c":"P","e":402.52,"v":99.3},{"s":"N1","c":"P","e":402.41,"v":101.2},{"s":"N1","c":"P","e":402.3,"v":102.0},{"s":"N1","c":"P","e":402.19,"v":101.2},{"s":"N1","c":"P","e":402.08,"v":99.3},{"s":"N1","c":"P","e":401.97,"v":97.3},{"s":"N1","c":"P","e":401.86,"v":96.0},{"s":"N1","c":"P","e":401.75,"v":95.3},{"s":"N1","c":"P","e":401.64,"v":95.1},
{"s":"N1","c":"C","e":402.5,"v":95.1},{"s":"N1","c":"C","e":402.225,"v":95.5},{"s":"N1","c":"C","e":401.95,"v":96.4},{"s":"N1","c":"C","e":401.675,"v":98.4},{"s":"N1","c":"C","e":401.4,"v":101.4},{"s":"N1","c":"C","e":401.125,"v":104.3},{"s":"N1","c":"C","e":400.85,"v":105.5},{"s":"N1","c":"C","e":400.575,"v":104.3},{"s":"N1","c":"C","e":400.3,"v":101.4},{"s":"N1","c":"C","e":400.025,"v":98.4},{"s":"N1","c":"C","e":399.75,"v":96.4},{"s":"N1","c":"C","e":399.475,"v":95.5},{"s":"N1","c":"C","e":399.2,"v":95.1},
{"s":"N1","c":"B","e":401.95,"v":95.2},{"s":"N1","c":"B","e":401.575,"v":95.9},{"s":"N1","c":"B","e":401.2,"v":97.7},{"s":"N1","c":"B","e":400.825,"v":101.5},{"s":"N1","c":"B","e":400.45,"v":107.1},{"s":"N1","c":"B","e":400.075,"v":112.7},{"s":"N1","c":"B","e":399.7,"v":115.0},{"s":"N1","c":"B","e":399.325,"v":112.7},{"s":"N1","c":"B","e":398.95,"v":107.1},{"s":"N1","c":"B","e":398.575,"v":101.5},{"s":"N1","c":"B","e":398.2,"v":97.7},{"s":"N1","c":"B","e":397.825,"v":95.9},{"s":"N1","c":"B","e":397.45,"v":95.2},
{"s":"N1","c":"G","e":398.3,"v":95.0},{"s":"N1","c":"G","e":398.175,"v":95.1},{"s":"N1","c":"G","e":398.05,"v":95.3},{"s":"N1","c":"G","e":397.925,"v":95.6},{"s":"N1","c":"G","e":397.8,"v":96.2},{"s":"N1","c":"G","e":397.675,"v":96.8},{"s":"N1","c":"G","e":397.55,"v":97.0},{"s":"N1","c":"G","e":397.425,"v":96.8},{"s":"N1","c":"G","e":397.3,"v":96.2},{"s":"N1","c":"G","e":397.175,"v":95.6},{"s":"N1","c":"G","e":397.05,"v":95.3},{"s":"N1","c":"G","e":396.925,"v":95.1},{"s":"N1","c":"G","e":396.8,"v":95.0},
{"s":"N05","c":"P","e":403.34,"v":64.4},{"s":"N05","c":"P","e":403.2,"v":64.8},{"s":"N05","c":"P","e":403.06,"v":65.7},{"s":"N05","c":"P","e":402.92,"v":67.7},{"s":"N05","c":"P","e":402.78,"v":70.7},{"s":"N05","c":"P","e":402.64,"v":73.6},{"s":"N05","c":"P","e":402.5,"v":74.8},{"s":"N05","c":"P","e":402.36,"v":73.6},{"s":"N05","c":"P","e":402.22,"v":70.7},{"s":"N05","c":"P","e":402.08,"v":67.7},{"s":"N05","c":"P","e":401.94,"v":65.7},{"s":"N05","c":"P","e":401.8,"v":64.8},{"s":"N05","c":"P","e":401.66,"v":64.4},
{"s":"N05","c":"C","e":401.5,"v":64.4},{"s":"N05","c":"C","e":401.325,"v":64.9},{"s":"N05","c":"C","e":401.15,"v":66.0},{"s":"N05","c":"C","e":400.975,"v":68.4},{"s":"N05","c":"C","e":400.8,"v":71.9},{"s":"N05","c":"C","e":400.625,"v":75.3},{"s":"N05","c":"C","e":400.45,"v":76.8},{"s":"N05","c":"C","e":400.275,"v":75.3},{"s":"N05","c":"C","e":400.1,"v":71.9},{"s":"N05","c":"C","e":399.925,"v":68.4},{"s":"N05","c":"C","e":399.75,"v":66.0},{"s":"N05","c":"C","e":399.575,"v":64.9},{"s":"N05","c":"C","e":399.4,"v":64.4},
{"s":"N05","c":"B","e":400.65,"v":64.5},{"s":"N05","c":"B","e":400.425,"v":64.9},{"s":"N05","c":"B","e":400.2,"v":66.2},{"s":"N05","c":"B","e":399.975,"v":68.9},{"s":"N05","c":"B","e":399.75,"v":72.8},{"s":"N05","c":"B","e":399.525,"v":76.7},{"s":"N05","c":"B","e":399.3,"v":78.3},{"s":"N05","c":"B","e":399.075,"v":76.7},{"s":"N05","c":"B","e":398.85,"v":72.8},{"s":"N05","c":"B","e":398.625,"v":68.9},{"s":"N05","c":"B","e":398.4,"v":66.2},{"s":"N05","c":"B","e":398.175,"v":64.9},{"s":"N05","c":"B","e":397.95,"v":64.5},
{"s":"N05","c":"G","e":398.46,"v":64.4},{"s":"N05","c":"G","e":398.35,"v":64.7},{"s":"N05","c":"G","e":398.24,"v":65.4},{"s":"N05","c":"G","e":398.13,"v":67.0},{"s":"N05","c":"G","e":398.02,"v":69.4},{"s":"N05","c":"G","e":397.91,"v":71.7},{"s":"N05","c":"G","e":397.8,"v":72.7},{"s":"N05","c":"G","e":397.69,"v":71.7},{"s":"N05","c":"G","e":397.58,"v":69.4},{"s":"N05","c":"G","e":397.47,"v":67.0},{"s":"N05","c":"G","e":397.36,"v":65.4},{"s":"N05","c":"G","e":397.25,"v":64.7},{"s":"N05","c":"G","e":397.14,"v":64.4},
{"s":"N0","c":"P","e":403.4,"v":35.4},{"s":"N0","c":"P","e":403.25,"v":35.6},{"s":"N0","c":"P","e":403.1,"v":36.2},{"s":"N0","c":"P","e":402.95,"v":37.4},{"s":"N0","c":"P","e":402.8,"v":39.2},{"s":"N0","c":"P","e":402.65,"v":41.0},{"s":"N0","c":"P","e":402.5,"v":41.7},{"s":"N0","c":"P","e":402.35,"v":41.0},{"s":"N0","c":"P","e":402.2,"v":39.2},{"s":"N0","c":"P","e":402.05,"v":37.4},{"s":"N0","c":"P","e":401.9,"v":36.2},{"s":"N0","c":"P","e":401.75,"v":35.6},{"s":"N0","c":"P","e":401.6,"v":35.4},
{"s":"N0","c":"C","e":401.56,"v":35.4},{"s":"N0","c":"C","e":401.45,"v":35.7},{"s":"N0","c":"C","e":401.34,"v":36.6},{"s":"N0","c":"C","e":401.23,"v":38.4},{"s":"N0","c":"C","e":401.12,"v":41.1},{"s":"N0","c":"C","e":401.01,"v":43.7},{"s":"N0","c":"C","e":400.9,"v":44.8},{"s":"N0","c":"C","e":400.79,"v":43.7},{"s":"N0","c":"C","e":400.68,"v":41.1},{"s":"N0","c":"C","e":400.57,"v":38.4},{"s":"N0","c":"C","e":400.46,"v":36.6},{"s":"N0","c":"C","e":400.35,"v":35.7},{"s":"N0","c":"C","e":400.24,"v":35.4},
{"s":"N0","c":"B","e":401.05,"v":35.4},{"s":"N0","c":"B","e":400.8,"v":35.9},{"s":"N0","c":"B","e":400.55,"v":37.1},{"s":"N0","c":"B","e":400.3,"v":39.5},{"s":"N0","c":"B","e":400.05,"v":43.2},{"s":"N0","c":"B","e":399.8,"v":46.8},{"s":"N0","c":"B","e":399.55,"v":48.3},{"s":"N0","c":"B","e":399.3,"v":46.8},{"s":"N0","c":"B","e":399.05,"v":43.2},{"s":"N0","c":"B","e":398.8,"v":39.5},{"s":"N0","c":"B","e":398.55,"v":37.1},{"s":"N0","c":"B","e":398.3,"v":35.9},{"s":"N0","c":"B","e":398.05,"v":35.4},
{"s":"N0","c":"G","e":398.25,"v":35.4},{"s":"N0","c":"G","e":398.125,"v":35.8},{"s":"N0","c":"G","e":398.0,"v":36.8},{"s":"N0","c":"G","e":397.875,"v":38.9},{"s":"N0","c":"G","e":397.75,"v":42.0},{"s":"N0","c":"G","e":397.625,"v":45.0},{"s":"N0","c":"G","e":397.5,"v":46.3},{"s":"N0","c":"G","e":397.375,"v":45.0},{"s":"N0","c":"G","e":397.25,"v":42.0},{"s":"N0","c":"G","e":397.125,"v":38.9},{"s":"N0","c":"G","e":397.0,"v":36.8},{"s":"N0","c":"G","e":396.875,"v":35.8},{"s":"N0","c":"G","e":396.75,"v":35.4},
{"s":"CC","c":"P","e":403.21,"v":2.8},{"s":"CC","c":"P","e":403.05,"v":3.1},{"s":"CC","c":"P","e":402.89,"v":3.9},{"s":"CC","c":"P","e":402.73,"v":5.6},{"s":"CC","c":"P","e":402.57,"v":8.2},{"s":"CC","c":"P","e":402.41,"v":10.6},{"s":"CC","c":"P","e":402.25,"v":11.7},{"s":"CC","c":"P","e":402.09,"v":10.6},{"s":"CC","c":"P","e":401.93,"v":8.2},{"s":"CC","c":"P","e":401.77,"v":5.6},{"s":"CC","c":"P","e":401.61,"v":3.9},{"s":"CC","c":"P","e":401.45,"v":3.1},{"s":"CC","c":"P","e":401.29,"v":2.8},
{"s":"CC","c":"C","e":401.4,"v":2.8},{"s":"CC","c":"C","e":401.3,"v":3.0},{"s":"CC","c":"C","e":401.2,"v":3.6},{"s":"CC","c":"C","e":401.1,"v":4.8},{"s":"CC","c":"C","e":401.0,"v":6.6},{"s":"CC","c":"C","e":400.9,"v":8.4},{"s":"CC","c":"C","e":400.8,"v":9.2},{"s":"CC","c":"C","e":400.7,"v":8.4},{"s":"CC","c":"C","e":400.6,"v":6.6},{"s":"CC","c":"C","e":400.5,"v":4.8},{"s":"CC","c":"C","e":400.4,"v":3.6},{"s":"CC","c":"C","e":400.3,"v":3.0},{"s":"CC","c":"C","e":400.2,"v":2.8},
{"s":"CC","c":"B","e":402.55,"v":2.8},{"s":"CC","c":"B","e":402.075,"v":3.2},{"s":"CC","c":"B","e":401.6,"v":4.3},{"s":"CC","c":"B","e":401.125,"v":6.4},{"s":"CC","c":"B","e":400.65,"v":9.7},{"s":"CC","c":"B","e":400.175,"v":12.9},{"s":"CC","c":"B","e":399.7,"v":14.2},{"s":"CC","c":"B","e":399.225,"v":12.9},{"s":"CC","c":"B","e":398.75,"v":9.7},{"s":"CC","c":"B","e":398.275,"v":6.4},{"s":"CC","c":"B","e":397.8,"v":4.3},{"s":"CC","c":"B","e":397.325,"v":3.2},{"s":"CC","c":"B","e":396.85,"v":2.8},
{"s":"CC","c":"G","e":398.55,"v":2.8},{"s":"CC","c":"G","e":398.375,"v":3.0},{"s":"CC","c":"G","e":398.2,"v":3.6},{"s":"CC","c":"G","e":398.025,"v":4.8},{"s":"CC","c":"G","e":397.85,"v":6.6},{"s":"CC","c":"G","e":397.675,"v":8.4},{"s":"CC","c":"G","e":397.5,"v":9.2},{"s":"CC","c":"G","e":397.325,"v":8.4},{"s":"CC","c":"G","e":397.15,"v":6.6},{"s":"CC","c":"G","e":396.975,"v":4.8},{"s":"CC","c":"G","e":396.8,"v":3.6},{"s":"CC","c":"G","e":396.625,"v":3.0},{"s":"CC","c":"G","e":396.45,"v":2.8}
],
"ann":[
{"e":402.4,"c":"P","t":"氧化氮"},{"e":400.9,"c":"C","t":"石墨氮"},{"e":399.7,"c":"B","t":"吡咯氮"},{"e":397.5,"c":"G","t":"吡啶氮"}
],
"blab":[
{"e":405,"v":132.7,"t":"N₂EPC/CC"},{"e":405,"v":106,"t":"N₁EPC/CC"},{"e":405,"v":81.7,"t":"N₀.₅EPC/CC"},{"e":405,"v":54.3,"t":"N₀EPC/CC"},{"e":405,"v":17.7,"t":"CC"}
]
},
"vconcat":[
{
"width":261,"height":158,
"title":{"text":"(a)不同电极的 XPS 全扫描光谱","orient":"bottom","anchor":"middle","font":"Noto Sans CJK SC","fontSize":12.5,"fontWeight":"normal","color":"#333","offset":12,"dx":-7},
"encoding":{
"x":{"field":"e","type":"quantitative","scale":{"domain":[0,1400],"reverse":true,"nice":false},
"axis":{"values":[1400,1200,1000,800,600,400,200,0],"labelExpr":"replace(format(datum.value, ','), ',', ' ')","labelOverlap":false,"labelBound":false,"title":"结合能/eV","titleFont":"Noto Sans CJK SC","titleFontSize":12.5,"titleFontWeight":"normal","titleColor":"#555","titlePadding":4,"labelFont":"Liberation Serif","labelFontSize":11.5,"labelColor":"#111","labelPadding":11.2,"tickSize":-4,"domainColor":"#444","tickColor":"#444","grid":false,"labelFlush":false}},
"y":{"field":"v","type":"quantitative","scale":{"domain":[0,158],"nice":false},
"axis":{"title":"强度","ticks":false,"labels":false,"grid":false,"domainColor":"#444","titleFont":"Noto Sans CJK SC","titleFontSize":12,"titleFontWeight":"normal","titleColor":"#555","titlePadding":3}}
},
"layer":[
{"data":{"name":"survey"},"mark":{"type":"line","strokeWidth":1},
"encoding":{
"color":{"field":"s","type":"nominal","scale":{"domain":["N2","N1","N05","N0","CC"],"range":["#222222","#62b548","#3f4fb0","#e4502f","#9a9a9a"]},"legend":null}}},
{"data":{"name":"tlab"},"mark":{"type":"text","align":"left","baseline":"middle","font":"Liberation Serif","fontSize":12.5,"color":"#222"},
"encoding":{"text":{"field":"t"}}}
]
},
{
"width":261,"height":150,
"title":{"text":"(b)N 1s峰的高分辨谱图","orient":"bottom","anchor":"middle","font":"Noto Sans CJK SC","fontSize":12.5,"fontWeight":"normal","color":"#333","offset":10,"dx":-6},
"resolve":{"scale":{"color":"independent"}},
"layer":[
{"data":{"name":"raw"},"mark":{"type":"line","strokeWidth":0.8,"color":"#b4b4b4"},
"encoding":{
"x":{"field":"e","type":"quantitative","scale":{"domain":[396,406],"reverse":true,"nice":false},
"axis":{"values":[406,404,402,400,398,396],"labelOverlap":false,"title":"结合能/eV","titleFont":"Noto Sans CJK SC","titleFontSize":12.5,"titleFontWeight":"normal","titleColor":"#555","titlePadding":4,"labelFont":"Liberation Serif","labelFontSize":11.5,"labelColor":"#111","labelPadding":9,"tickSize":-4,"domainColor":"#444","tickColor":"#444","grid":false,"labelFlush":false}},
"y":{"field":"v","type":"quantitative","scale":{"domain":[0,150],"nice":false},
"axis":{"title":"强度","ticks":false,"labels":false,"grid":false,"domainColor":"#444","titleFont":"Noto Sans CJK SC","titleFontSize":12,"titleFontWeight":"normal","titleColor":"#555","titlePadding":3}},
"detail":{"field":"s"}}},
{"data":{"name":"base"},"mark":{"type":"line","strokeWidth":1,"color":"#8a8a8a"},
"encoding":{"x":{"field":"e","type":"quantitative"},"y":{"field":"v","type":"quantitative"},"detail":{"field":"s"}}},
{"data":{"name":"fit"},"mark":{"type":"line","strokeWidth":1,"color":"#1a1a1a","interpolate":"monotone"},
"encoding":{"x":{"field":"e","type":"quantitative"},"y":{"field":"v","type":"quantitative"},"detail":{"field":"s"}}},
{"data":{"name":"comp"},"mark":{"type":"line","strokeWidth":0.9,"interpolate":"monotone"},
"encoding":{"x":{"field":"e","type":"quantitative"},"y":{"field":"v","type":"quantitative"},"detail":{"field":"s"},
"color":{"field":"c","type":"nominal","scale":{"domain":["P","C","B","G"],"range":["#a5559f","#6cc0dc","#4c5cbf","#7ab648"]},"legend":null}}},
{"data":{"name":"ann"},"mark":{"type":"rule","strokeWidth":0.8,"strokeDash":[3,2]},
"encoding":{"x":{"field":"e","type":"quantitative"},"color":{"field":"c","type":"nominal","scale":{"domain":["P","C","B","G"],"range":["#a5559f","#6cc0dc","#4c5cbf","#7ab648"]},"legend":null}}},
{"data":{"name":"ann"},"mark":{"type":"text","align":"center","baseline":"middle","font":"Noto Sans CJK SC","fontSize":9,"color":"#666"},
"encoding":{"x":{"field":"e","type":"quantitative"},"y":{"datum":157},"text":{"field":"t"}}},
{"data":{"name":"blab"},"mark":{"type":"text","align":"left","baseline":"middle","font":"Liberation Serif","fontSize":12.5,"color":"#222"},
"encoding":{"x":{"field":"e","type":"quantitative"},"y":{"field":"v","type":"quantitative"},"text":{"field":"t"}}}
]
}
]
}
